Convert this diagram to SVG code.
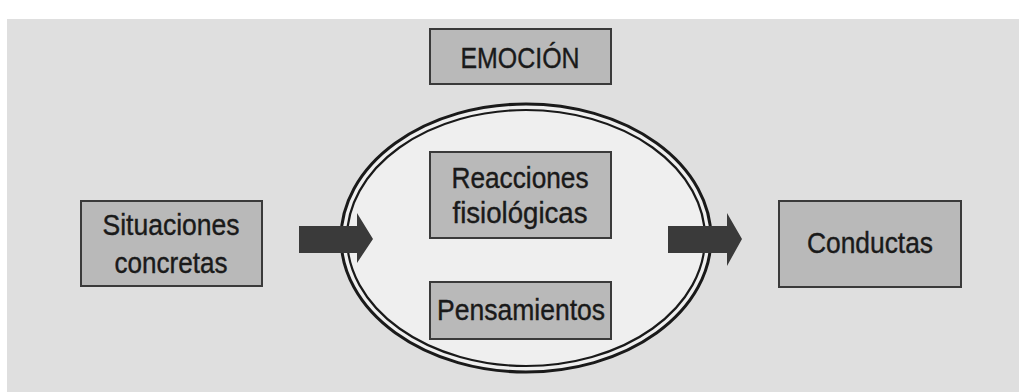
<svg xmlns="http://www.w3.org/2000/svg" width="1019" height="392" viewBox="0 0 1019 392">
<style>
.box{fill:#b9b9b9;stroke:#3a3a3a;stroke-width:2}
.t{font-family:"Liberation Sans",Arial,sans-serif;font-size:29px;fill:#1a1a1a;stroke:#1a1a1a;stroke-width:0.4;text-anchor:middle}
.arrow{fill:#3a3a3a}
</style>
<rect x="0" y="0" width="1019" height="392" fill="#ffffff"/>
<rect x="7" y="19" width="1012" height="373" fill="#dfdfdf"/>
<g id="ellipse">
<ellipse cx="526" cy="238" rx="185" ry="134" fill="#efefef" stroke="#1a1a1a" stroke-width="3"/>
<ellipse cx="526" cy="238" rx="179" ry="128" fill="none" stroke="#1a1a1a" stroke-width="2.2"/>
</g>
<g id="connectors">
<polygon class="arrow" points="299,226 357,226 357,213 373,239 357,263 357,253 299,253"/>
<polygon class="arrow" points="668,226 727,226 727,213 742,239 727,266 727,253 668,253"/>
</g>
<g id="emocion">
<rect class="box" x="430" y="29" width="181" height="55"/>
<text class="t" x="520" y="68" textLength="119" lengthAdjust="spacingAndGlyphs">EMOCIÓN</text>
</g>
<g id="situaciones">
<rect class="box" x="81" y="201" width="181" height="85"/>
<text class="t" x="171" y="235" textLength="137" lengthAdjust="spacingAndGlyphs">Situaciones</text>
<text class="t" x="171" y="273" textLength="113" lengthAdjust="spacingAndGlyphs">concretas</text>
</g>
<g id="reacciones">
<rect class="box" x="430" y="152" width="181" height="86"/>
<text class="t" x="520" y="188" textLength="137" lengthAdjust="spacingAndGlyphs">Reacciones</text>
<text class="t" x="520" y="223" textLength="135" lengthAdjust="spacingAndGlyphs">fisiológicas</text>
</g>
<g id="pensamientos">
<rect class="box" x="430" y="282" width="181" height="57"/>
<text class="t" x="521" y="320" textLength="168" lengthAdjust="spacingAndGlyphs">Pensamientos</text>
</g>
<g id="conductas">
<rect class="box" x="779" y="201" width="182" height="86"/>
<text class="t" x="870" y="253" textLength="126" lengthAdjust="spacingAndGlyphs">Conductas</text>
</g>
</svg>
